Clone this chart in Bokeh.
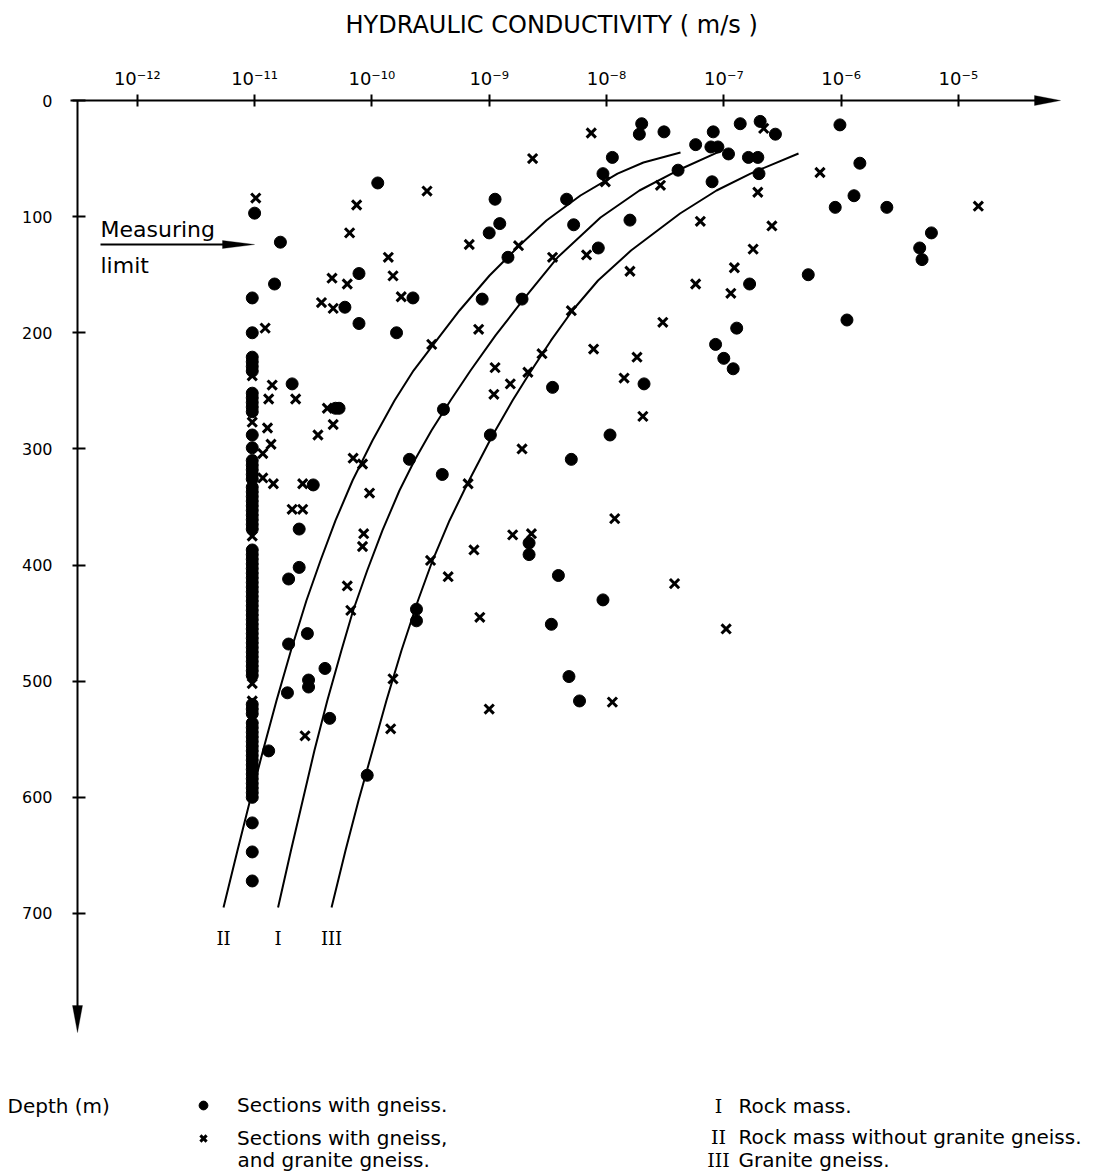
import numpy as np
from bokeh.plotting import figure
from bokeh.models import (Range1d, FixedTicker, Label, Legend, LegendItem, PolyAnnotation,
                          ColumnDataSource, LinearAxis)
from bokeh.embed import file_html
from bokeh.resources import INLINE

# ---------------- data ----------------
# x values are log10 of hydraulic conductivity (m/s), y values are depth (m)
tick_exponents = [-12, -11, -10, -9, -8, -7, -6, -5]
tick_labels = ["10⁻¹²", "10⁻¹¹", "10⁻¹⁰", "10⁻⁹", "10⁻⁸", "10⁻⁷", "10⁻⁶", "10⁻⁵"]
depth_ticks = [0, 100, 200, 300, 400, 500, 600, 700]

# Sections with gneiss (dots)
gneiss = [
    (-7.70, 20), (-7.72, 29), (-7.51, 27), (-7.09, 27), (-6.86, 20), (-6.69, 18), (-6.56, 29),
    (-7.24, 38), (-7.11, 40), (-7.05, 40), (-6.96, 46), (-6.79, 49), (-6.71, 49), (-7.95, 49),
    (-8.03, 63), (-7.39, 60), (-6.70, 63), (-7.10, 70), (-6.01, 21), (-5.84, 54), (-5.89, 82),
    (-6.05, 92), (-5.61, 92), (-5.23, 114), (-5.33, 127), (-5.31, 137), (-6.28, 150), (-5.95, 189),
    (-8.95, 85), (-8.34, 85), (-8.91, 106), (-9.00, 114), (-8.28, 107), (-7.80, 103), (-8.84, 135),
    (-8.07, 127), (-6.78, 158), (-9.65, 170), (-9.06, 171), (-8.72, 171), (-6.89, 196), (-7.07, 210),
    (-7.00, 222), (-6.92, 231), (-8.46, 247), (-7.68, 244), (-9.39, 266), (-8.99, 288), (-7.97, 288),
    (-9.68, 309), (-8.30, 309), (-9.40, 322), (-8.66, 381), (-8.66, 391), (-8.41, 409), (-8.03, 430),
    (-9.62, 438), (-9.62, 448), (-8.47, 451), (-8.32, 496), (-8.23, 517),
    (-9.95, 71), (-11.00, 97), (-10.78, 122), (-10.83, 158), (-10.11, 149), (-10.23, 178),
    (-10.11, 192), (-9.79, 200), (-10.68, 244), (-10.31, 265), (-10.28, 265), (-10.50, 331),
    (-10.62, 369), (-10.62, 402), (-10.71, 412), (-10.55, 459), (-10.71, 468), (-10.40, 489),
    (-10.54, 499), (-10.54, 505), (-10.72, 510), (-10.36, 532), (-10.04, 581), (-10.88, 560),
]
# gneiss sections found at the measuring limit (1e-11 m/s)
limit_log_k = -11.02
limit_gneiss_depth = [
    170, 200, 221, 225, 229, 233, 252, 256, 260, 264, 268, 288, 299, 310, 314, 318, 322, 326,
    333, 337, 341, 345, 349, 353, 357, 361, 365, 369, 387, 391, 395, 399, 403, 407, 411, 415,
    419, 423, 427, 431, 435, 439, 443, 447, 451, 455, 459, 463, 467, 471, 475, 479, 483, 487,
    491, 495, 520, 524, 528, 536, 540, 544, 548, 552, 556, 560, 564, 568, 572, 576, 580, 584,
    588, 592, 596, 600, 622, 647, 672,
]

# Sections with gneiss and granite gneiss (crosses)
granite_gneiss = [
    (-8.13, 28), (-6.66, 24), (-8.63, 50), (-8.01, 70), (-7.54, 73), (-6.71, 79), (-6.18, 62),
    (-4.83, 91), (-9.53, 78), (-7.20, 104), (-6.59, 108), (-9.17, 124), (-8.75, 125), (-8.46, 135),
    (-8.17, 133), (-6.75, 128), (-7.80, 147), (-6.91, 144), (-7.24, 158), (-6.94, 166), (-9.75, 169),
    (-7.52, 191), (-9.09, 197), (-9.49, 210), (-8.30, 181), (-8.11, 214), (-7.74, 221), (-8.55, 218),
    (-8.67, 234), (-8.95, 230), (-8.82, 244), (-8.96, 253), (-7.85, 239), (-7.69, 272), (-8.72, 300),
    (-9.18, 330), (-7.93, 360), (-8.80, 374), (-8.64, 373), (-9.13, 387), (-9.50, 396), (-9.35, 410),
    (-7.42, 416), (-9.08, 445), (-6.98, 455), (-7.95, 518), (-9.00, 524), (-9.82, 498), (-9.84, 541),
    (-10.99, 84), (-10.13, 90), (-10.19, 114), (-9.86, 135), (-9.82, 151), (-10.34, 153),
    (-10.21, 158), (-10.43, 174), (-10.33, 179), (-10.91, 196), (-11.02, 237), (-10.85, 245),
    (-11.02, 254), (-10.88, 257), (-10.65, 257), (-10.38, 265), (-11.02, 277), (-10.89, 282),
    (-10.33, 279), (-10.46, 288), (-10.86, 296), (-10.93, 304), (-10.16, 308), (-10.08, 313),
    (-10.93, 325), (-10.84, 330), (-10.59, 330), (-10.02, 338), (-10.68, 352), (-10.59, 352),
    (-10.07, 373), (-10.08, 384), (-11.02, 375), (-10.21, 418), (-10.18, 439), (-10.57, 547),
    (-11.02, 502), (-11.02, 517),
]

# Curves: I rock mass, II rock mass without granite gneiss, III granite gneiss
curve_I_log_k = [-10.80, -10.69, -10.59, -10.49, -10.38, -10.26, -10.16, -10.04, -9.91, -9.765, -9.637,
                 -9.492, -9.33, -9.159, -8.946, -8.708, -8.418, -8.051, -7.719, -7.395, -7.02]
curve_I_depth = [694.9, 645.8, 602.7, 559.7, 516.6, 473.6, 439.1, 404.7, 370.2, 335.8, 310.0,
                 284.1, 258.3, 232.5, 202.3, 171.3, 135.2, 100.7, 77.5, 60.3, 43.1]
curve_II_log_k = [-11.265, -11.146, -11.039, -10.928, -10.813, -10.69, -10.558, -10.438, -10.31, -10.165,
                  -9.995, -9.807, -9.645, -9.483, -9.253, -8.997, -8.742, -8.512, -8.222, -7.906,
                  -7.685, -7.369]
curve_II_depth = [694.9, 645.8, 602.7, 559.7, 516.6, 473.6, 430.5, 396.1, 361.6, 327.2,
                  292.8, 258.3, 232.5, 211.0, 180.8, 150.7, 124.8, 103.3, 81.8, 62.9,
                  53.4, 44.8]
curve_III_log_k = [-10.344, -10.225, -10.114, -9.995, -9.876, -9.748, -9.607, -9.483, -9.338, -9.185,
                   -8.972, -8.801, -8.652, -8.473, -8.29, -8.072, -7.791, -7.373, -7.062, -6.772,
                   -6.363]
curve_III_depth = [694.9, 645.8, 602.7, 559.7, 516.6, 473.6, 430.5, 396.1, 361.6, 329.8,
                   288.4, 258.3, 234.2, 206.6, 180.8, 155.0, 129.2, 97.3, 77.5, 62.9,
                   45.6]

# ---------------- layout helpers (pixel -> data) ----------------
W, H = 1113, 1173
AXIS_X, AXIS_Y = 77, 100
PX_PER_DECADE = 117.3
PX_AT_1E8 = 606
PX_PER_M = 1.1614


def lgx(px):
    return -8 + (px - PX_AT_1E8) / PX_PER_DECADE


def dpy(py):
    return (py - AXIS_Y) / PX_PER_M


FONT = "DejaVu Sans"

p = figure(width=W, height=H,
           x_range=Range1d(lgx(0), lgx(W)),
           y_range=Range1d(dpy(H), dpy(0)),
           x_axis_location=None, y_axis_location=None,
           output_backend="svg", toolbar_location=None,
           min_border_left=0, min_border_top=0,
           min_border_right=0, min_border_bottom=0)
p.grid.visible = False
p.outline_line_color = None
p.background_fill_color = "white"
p.border_fill_color = "white"

xa = LinearAxis(fixed_location=0)
xa.ticker = FixedTicker(ticks=tick_exponents)
xa.major_label_overrides = {e: t for e, t in zip(tick_exponents, tick_labels)}
xa.bounds = (lgx(70), lgx(1040))
xa.axis_line_width = 2
xa.axis_line_color = "black"
xa.major_tick_line_width = 2
xa.major_tick_line_color = "black"
xa.major_tick_in = 6
xa.major_tick_out = 6
xa.minor_tick_line_color = None
xa.major_label_standoff = 6
xa.major_label_text_font = FONT
xa.major_label_text_font_size = "18px"
xa.major_label_text_color = "black"
xa.axis_label = "HYDRAULIC  CONDUCTIVITY ( m/s )"
xa.axis_label_text_font = FONT
xa.axis_label_text_font_style = "normal"
xa.axis_label_text_font_size = "24px"
xa.axis_label_text_color = "black"
xa.axis_label_standoff = 26
p.add_layout(xa, "above")

ya = LinearAxis(fixed_location=lgx(AXIS_X))
ya.ticker = FixedTicker(ticks=depth_ticks)
ya.bounds = (0, dpy(1008))
ya.axis_line_width = 2
ya.axis_line_color = "black"
ya.major_tick_line_width = 2
ya.major_tick_line_color = "black"
ya.major_tick_in = 8
ya.major_tick_out = 5
ya.minor_tick_line_color = None
ya.major_label_standoff = 20
ya.major_label_text_font = FONT
ya.major_label_text_font_size = "16px"
ya.major_label_text_color = "black"
p.add_layout(ya, "left")

# arrow heads of the axes and of the measuring-limit arrow
for xs_px, ys_px in [((1060, 1034, 1034), (100, 95, 105)),
                     ((77, 72, 82), (1032, 1005, 1005)),
                     ((254, 222, 222), (244, 240, 248))]:
    p.add_layout(PolyAnnotation(xs=[lgx(v) for v in xs_px], ys=[dpy(v) for v in ys_px],
                                xs_units="data", ys_units="data",
                                fill_color="black", fill_alpha=1, line_color="black", line_width=1))
# measuring limit arrow shaft (also underlines "Measuring")
p.line([lgx(100), lgx(225)], [dpy(244), dpy(244)], line_color="black", line_width=2)

# curves
for xs, ys in [(curve_I_log_k, curve_I_depth), (curve_II_log_k, curve_II_depth),
               (curve_III_log_k, curve_III_depth)]:
    p.line(xs, ys, line_color="black", line_width=2, line_join="round")

p.text(x=[curve_II_log_k[0], curve_I_log_k[0], curve_III_log_k[0]],
       y=[dpy(938)] * 3, text=["II", "I", "III"],
       text_font={"value": "DejaVu Serif"}, text_font_size="18px",
       text_align="center", text_baseline="middle", text_color="black")

# data points
dots_src = ColumnDataSource(dict(
    x=[g[0] for g in gneiss] + [limit_log_k] * len(limit_gneiss_depth),
    y=[g[1] for g in gneiss] + limit_gneiss_depth))
cross_src = ColumnDataSource(dict(x=[g[0] for g in granite_gneiss], y=[g[1] for g in granite_gneiss]))
dots_r = p.scatter("x", "y", source=dots_src, marker="circle", size=12,
                   fill_color="black", line_color="black")
cross_r = p.scatter("x", "y", source=cross_src, marker="x", size=13,
                    line_color="black", line_width=3)

# legend for markers
ROW1, ROW2, ROW3 = 1105, 1136, 1159
legend = Legend(items=[LegendItem(label="Sections with gneiss.", renderers=[dots_r]),
                       LegendItem(label="Sections with gneiss,", renderers=[cross_r])],
                location=(192, H - (ROW2 + 11) - 3),
                border_line_color=None, background_fill_alpha=0,
                padding=0, margin=0, spacing=ROW2 - ROW1 - 22,
                glyph_width=22, glyph_height=22, label_height=22,
                label_standoff=23, label_text_font=FONT, label_text_font_size="20px",
                label_text_color="black")
p.add_layout(legend)


def add_label(text, px, py, align="left", font=FONT, size="20px"):
    p.add_layout(Label(x=lgx(px), y=dpy(py), text=text, text_align=align, text_baseline="middle",
                       text_font=font, text_font_size=size, text_color="black"))


add_label("Measuring", 100, 229, size="22px")
add_label("limit", 100, 265, size="22px")
add_label("Depth (m)", 7, ROW1)
add_label("and granite gneiss.", 237, ROW3)
add_label("I", 718, ROW1, align="center", font="DejaVu Serif", size="19px")
add_label("II", 718, ROW2, align="center", font="DejaVu Serif", size="19px")
add_label("III", 718, ROW3, align="center", font="DejaVu Serif", size="19px")
add_label("Rock  mass.", 738, ROW1)
add_label("Rock  mass  without  granite  gneiss.", 738, ROW2)
add_label("Granite  gneiss.", 738, ROW3)

open("out.html", "w").write(file_html(p, INLINE))
